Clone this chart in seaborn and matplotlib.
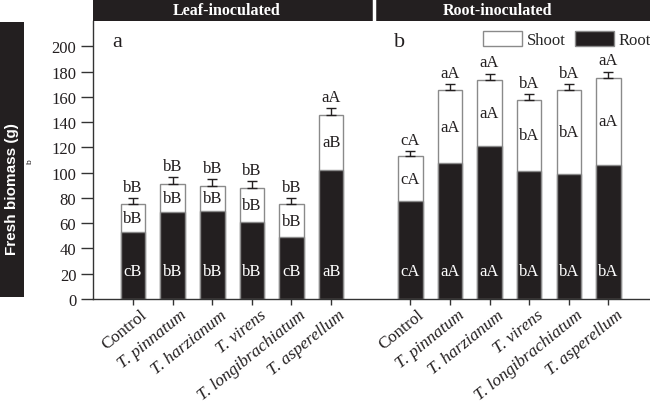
import matplotlib
matplotlib.use("Agg")
import matplotlib.pyplot as plt
from matplotlib.patches import Patch
import numpy as np
import pandas as pd
import seaborn as sns

# values (fresh biomass, g)
strains = ['Control', 'T. pinnatum', 'T. harzianum', 'T. virens',
           'T. longibrachiatum', 'T. asperellum']
leaf_total = [75.0, 91.4, 89.6, 87.7, 75.4, 145.7]
leaf_root = [52.7, 69.0, 69.8, 60.6, 48.7, 102.0]
leaf_err = [5.0, 4.8, 5.0, 5.3, 4.6, 5.3]
root_total = [112.8, 165.5, 173.6, 157.6, 165.5, 175.0]
root_root = [77.7, 107.5, 121.2, 101.4, 98.8, 106.2]
root_err = [4.4, 4.7, 4.8, 4.4, 4.7, 5.0]

leaf_top_lab = ['bB', 'bB', 'bB', 'bB', 'bB', 'aA']
leaf_shoot_lab = ['bB', 'bB', 'bB', 'bB', 'bB', 'aB']
leaf_root_lab = ['cB', 'bB', 'bB', 'bB', 'cB', 'aB']
root_top_lab = ['cA', 'aA', 'aA', 'bA', 'bA', 'aA']
root_shoot_lab = ['cA', 'aA', 'aA', 'bA', 'bA', 'aA']
root_root_lab = ['cA', 'aA', 'aA', 'bA', 'bA', 'bA']

df = pd.DataFrame({
    'pos': list(range(6)) + list(range(7, 13)),
    'strain': strains + strains,
    'total': leaf_total + root_total,
    'root': leaf_root + root_root,
    'err': leaf_err + root_err,
    'top_lab': leaf_top_lab + root_top_lab,
    'shoot_lab': leaf_shoot_lab + root_shoot_lab,
    'root_lab': leaf_root_lab + root_root_lab,
})

sns.set_theme(style="white")
plt.rcParams['font.family'] = ['Liberation Serif', 'DejaVu Serif']

W, H = 650, 410
fig = plt.figure(figsize=(6.5, 4.1), dpi=100)
ax = fig.add_axes([93 / W, 1 - 300 / H, 1 - 93 / W, (300 - 22) / H])

dark = '#231f20'
edge = '#8a8a8a'

sns.barplot(data=df, x='pos', y='total', native_scale=True, width=0.62,
            color='white', edgecolor=edge, linewidth=1.0, errorbar=None,
            saturation=1, ax=ax)
sns.barplot(data=df, x='pos', y='root', native_scale=True, width=0.62,
            color=dark, edgecolor=edge, linewidth=1.0, errorbar=None,
            saturation=1, ax=ax)
ax.errorbar(df['pos'], df['total'], yerr=[np.zeros(len(df)), df['err']],
            fmt='none', ecolor=dark, elinewidth=1.0, capsize=3.5, capthick=1.0)

fs = 12
for _, r in df.iterrows():
    ax.text(r['pos'], r['total'] + r['err'] + 2.5, r['top_lab'], ha='center',
            va='bottom', fontsize=fs, color=dark)
    ax.text(r['pos'], (r['total'] + r['root']) / 2, r['shoot_lab'], ha='center',
            va='center', fontsize=fs, color=dark)
    ax.text(r['pos'], 22, r['root_lab'], ha='center', va='center',
            fontsize=fs, color='white')

ax.text(-0.4, 204, 'a', fontsize=16, color=dark, ha='center', va='center')
ax.text(6.74, 204, 'b', fontsize=16, color=dark, ha='center', va='center')

ax.set_xlim(-1.01, 13.05)
ax.set_ylim(0, 220)
ax.set_yticks(range(0, 201, 20))
ax.set_xticks(df['pos'])
ax.set_xticklabels([])
for p, s in zip(df['pos'], df['strain']):
    style = 'normal' if s == 'Control' else 'italic'
    ax.text(p + 0.18, -6, s, rotation=39, ha='right', va='top',
            rotation_mode='anchor', fontsize=12.5, style=style, color=dark)
ax.set_xlabel('')
ax.set_ylabel('')
ax.tick_params(axis='y', which='major', left=True, length=9, width=1.0,
               direction='out', color='#333333', labelsize=fs,
               labelcolor=dark, pad=3)
ax.tick_params(axis='x', which='major', bottom=True, length=4, width=1.0,
               direction='out', color='#333333')
for side in ['top', 'right']:
    ax.spines[side].set_visible(False)
for side in ['left', 'bottom']:
    ax.spines[side].set_color('#333333')
    ax.spines[side].set_linewidth(1.0)

handles = [Patch(facecolor='white', edgecolor=edge, label='Shoot'),
           Patch(facecolor=dark, edgecolor=edge, label='Root')]
ax.legend(handles=handles, loc='upper right', bbox_to_anchor=(1.02, 1.0),
          ncol=2, frameon=False, fontsize=fs, handlelength=2.3,
          handleheight=1.0, handletextpad=0.3, columnspacing=0.6,
          borderaxespad=0.2)

# header strip
top = fig.add_axes([93 / W, 1 - 22 / H, 1 - 93 / W, 22 / H])
top.set_facecolor(dark)
top.set_xlim(93, 650)
top.set_ylim(0, 1)
top.set_xticks([])
top.set_yticks([])
for s in top.spines.values():
    s.set_visible(False)
top.axvline(374, color='white', lw=2.5)
top.text(227, 0.5, 'Leaf-inoculated', color='white', fontweight='bold',
         fontsize=11.5, ha='center', va='center')
top.text(497, 0.5, 'Root-inoculated', color='white', fontweight='bold',
         fontsize=11.5, ha='center', va='center')

# y-label strip
side = fig.add_axes([0, 1 - 298 / H, 24 / W, (298 - 23) / H])
side.set_facecolor(dark)
side.set_xticks([])
side.set_yticks([])
for s in side.spines.values():
    s.set_visible(False)
side.text(0.5, 0.395, 'Fresh biomass (g)', rotation=90, color='white',
          fontweight='bold', fontsize=11, ha='center', va='center',
          family=['Liberation Sans', 'DejaVu Sans'], transform=side.transAxes)
fig.text(30 / W, 1 - 162 / H, 'b', rotation=90, fontsize=6, color=dark,
         family=['Liberation Sans', 'DejaVu Sans'], ha='center', va='center')

fig.savefig('out.png', dpi=100)
